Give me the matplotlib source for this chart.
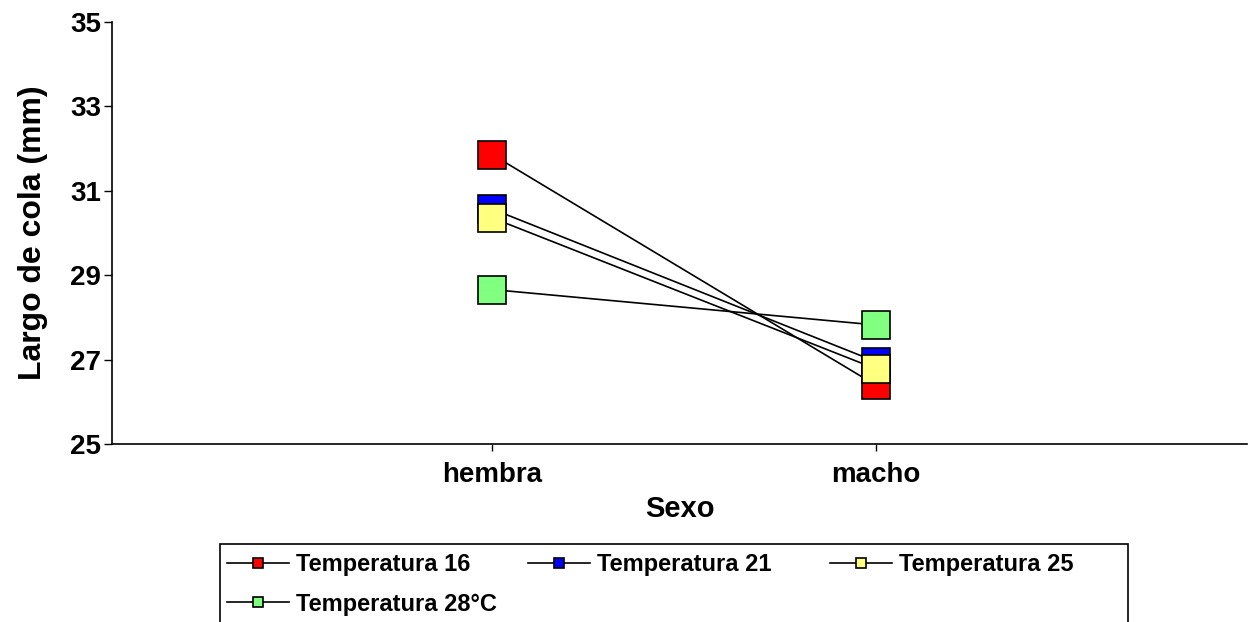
import matplotlib
matplotlib.use("Agg")
import matplotlib.pyplot as plt
from matplotlib.patches import Rectangle

plt.rcParams['font.family'] = ['Liberation Sans', 'DejaVu Sans']
plt.rcParams['font.weight'] = 'bold'

sexo = ['hembra', 'macho']
series = ['Temperatura 16', 'Temperatura 21', 'Temperatura 25', 'Temperatura 28°C']
t16 = [31.86, 26.39]
t21 = [30.57, 26.95]
t25 = [30.36, 26.78]
t28 = [28.66, 27.82]
colores = ['#FF0000', '#0000FF', '#FFFF80', '#80FF80']

W, H = 1252, 622
fig = plt.figure(figsize=(W / 100, H / 100), dpi=100)
ax = fig.add_axes([112 / W, (H - 444) / H, (1247 - 112) / W, 422 / H])

x = [1, 2]
lines = []
for vals, col, name in zip([t16, t21, t25, t28], colores, series):
    ln, = ax.plot(x, vals, '-', color='black', lw=1.2, marker='s', ms=20,
                  mfc=col, mec='black', mew=1.2, label=name)
    lines.append(ln)

ax.set_xlim(0.01, 2.966)
ax.set_ylim(25, 35)
ax.set_yticks([25, 27, 29, 31, 33, 35])
ax.set_xticks(x)
ax.set_xticklabels(sexo, fontsize=20, fontweight='bold')
ax.tick_params(axis='y', labelsize=20, length=6, width=1, direction='out', pad=2)
ax.tick_params(axis='x', length=5, width=1, direction='out', pad=8)
for s in ['top', 'right']:
    ax.spines[s].set_visible(False)
for s in ['left', 'bottom']:
    ax.spines[s].set_linewidth(1.2)

ax.set_ylabel('Largo de cola (mm)', fontsize=23, fontweight='bold', labelpad=16)
ax.set_xlabel('Sexo', fontsize=21, fontweight='bold', labelpad=5)

# legend frame (bottom is cut by the figure edge)
fig.patches.append(Rectangle((220 / W, -0.1), (1128 - 220) / W, (H - 544) / H + 0.1,
                             transform=fig.transFigure, fill=False,
                             edgecolor='black', lw=1.2))

# three legend columns like the Excel layout
cols = [([lines[0], lines[3]], 227), ([lines[1]], 528), ([lines[2]], 830)]
for hs, xpos in cols:
    leg = fig.legend(handles=hs, loc='upper left',
                     bbox_to_anchor=(xpos / W, (H - 553) / H),
                     frameon=False, fontsize=17, borderpad=0, borderaxespad=0,
                     handlelength=2.63, handletextpad=0.3, labelspacing=0.7,
                     markerscale=0.36)

fig.savefig('out.png', dpi=100)
